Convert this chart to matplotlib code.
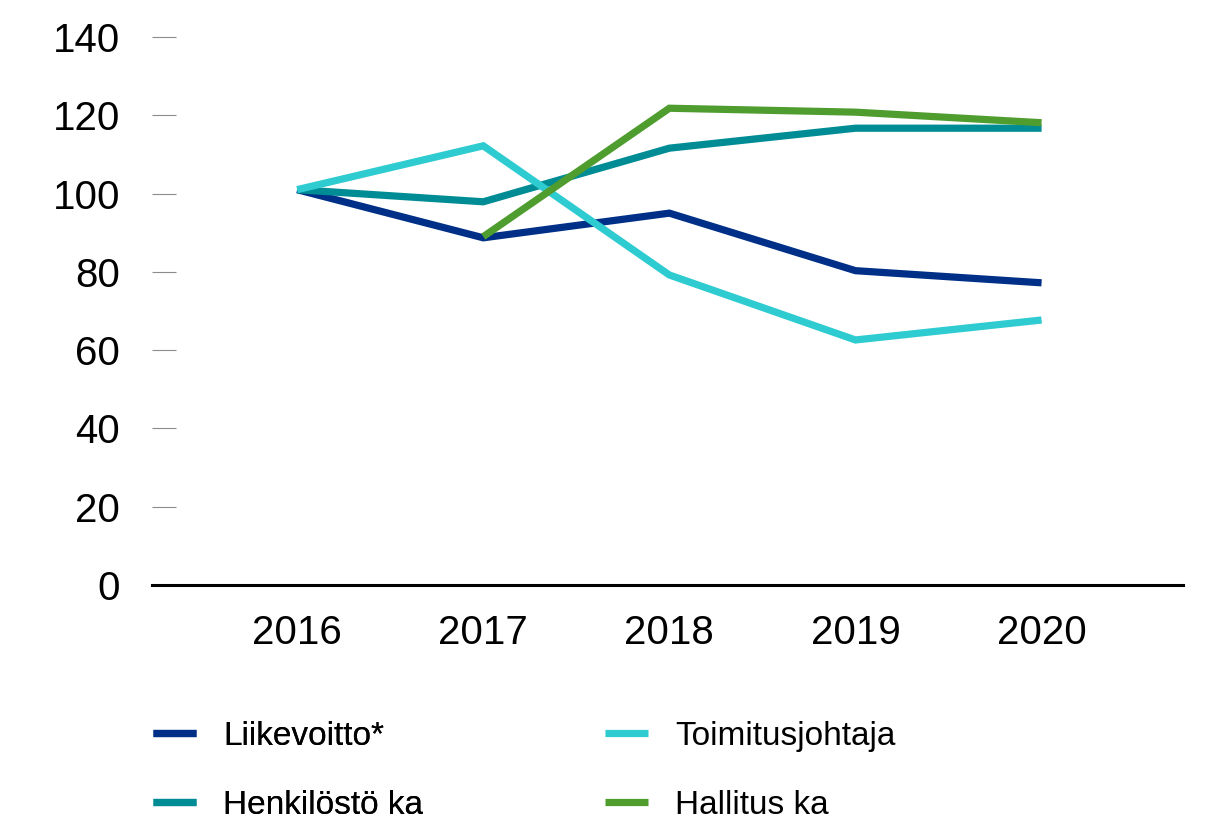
import numpy as np
import matplotlib
matplotlib.use("Agg")
import matplotlib.pyplot as plt
from matplotlib import font_manager

years = ["2016", "2017", "2018", "2019", "2020"]

liikevoitto = [101, 88.7, 95.0, 80.3, 77.2]
toimitusjohtaja = [101, 112.2, 79.2, 62.6, 67.7]
henkilosto = [101, 97.9, 111.6, 116.7, 116.7]
hallitus = [np.nan, 89.0, 121.8, 120.8, 118.1]

labels = ["Liikevoitto*", "Henkilöstö ka", "Toimitusjohtaja", "Hallitus ka"]
colors = ["#002F87", "#008C94", "#2ECBD1", "#4F9D2F"]

available = {f.name for f in font_manager.fontManager.ttflist}
family = "Liberation Sans Narrow" if "Liberation Sans Narrow" in available else "Liberation Sans"
plt.rcParams["font.family"] = [family, "DejaVu Sans"]

W, H = 1208, 823
fig = plt.figure(figsize=(W / 100, H / 100), dpi=100)
ax = fig.add_axes([152 / W, 1 - 585 / H, (1183 - 152) / W, (585 - 37) / H])

x = np.arange(len(years))
series = [liikevoitto, henkilosto, toimitusjohtaja, hallitus]
lines = []
for vals, c, lab in zip(series, colors, labels):
    ln, = ax.plot(x, vals, color=c, lw=5.2, solid_capstyle="butt",
                  solid_joinstyle="miter", label=lab)
    lines.append(ln)

ax.set_ylim(0, 140)
ax.set_xlim(-0.78, 4.76)
ax.set_yticks(np.arange(0, 141, 20))
ax.set_xticks(x)
ax.set_xticklabels(years)

for s in ["top", "right", "left"]:
    ax.spines[s].set_visible(False)
ax.spines["bottom"].set_linewidth(2.2)
ax.spines["bottom"].set_color("black")

ax.tick_params(axis="y", direction="in", length=17, width=0.8, color="#8c8c8c",
               pad=23, labelsize=29)
ax.tick_params(axis="x", length=0, pad=21, labelsize=29)

# legend: two single-column blocks
leg_kw = dict(loc="upper left", frameon=False, fontsize=24, handlelength=1.3,
              handletextpad=0.8, labelspacing=1.13, borderpad=0, borderaxespad=0)
leg1 = fig.legend([lines[0], lines[1]], labels[:2],
                  bbox_to_anchor=(153 / W, 1 - 721 / H), **leg_kw)
leg2 = fig.legend([lines[2], lines[3]], labels[2:],
                  bbox_to_anchor=(605 / W, 1 - 721 / H), **leg_kw)
fig.add_artist(leg1)

fig.savefig("out.png", dpi=100)
